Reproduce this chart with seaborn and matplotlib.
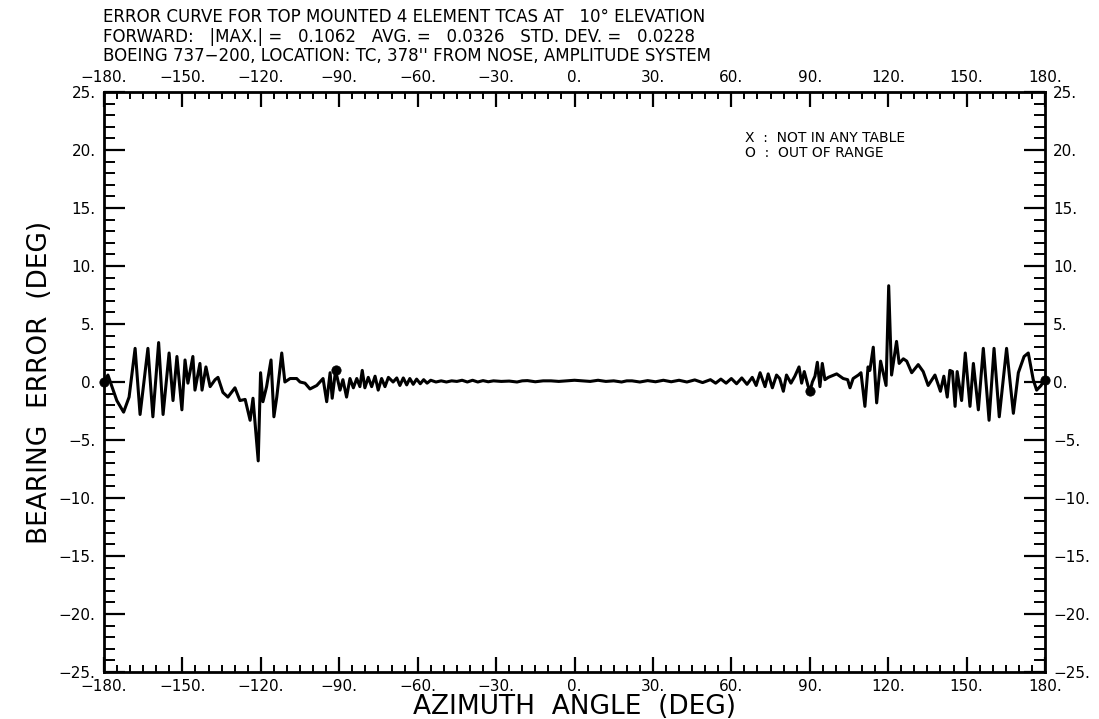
import matplotlib
matplotlib.use("Agg")
import matplotlib.pyplot as plt
from matplotlib.ticker import MultipleLocator, FuncFormatter
import pandas as pd
import seaborn as sns

# bearing error curve (azimuth deg, error deg)
azimuth = [
    -180.0, -178.5, -175.1, -172.5, -170.4, -168.1, -166.2, -163.2, -161.3, -159.1,
    -157.4, -155.1, -153.6, -152.1, -150.2, -149.0, -147.9, -146.0, -145.2, -143.3,
    -142.5, -141.0, -139.4, -137.5, -136.4, -134.5, -132.6, -129.9, -128.0, -126.0,
    -124.1, -123.0, -121.0, -120.1, -119.2, -117.8, -116.1, -115.0, -113.9, -112.0,
    -110.8, -108.8, -106.3, -105.0, -103.1, -101.2, -98.6, -96.2, -94.8, -93.5,
    -92.7, -91.4, -89.7, -88.6, -87.2, -85.9, -84.6, -83.3, -82.1, -81.2,
    -80.2, -78.9, -77.6, -76.3, -75.1, -73.8, -72.5, -71.2, -69.4, -68.0,
    -66.8, -65.5, -64.2, -63.0, -61.7, -60.4, -59.0, -57.7, -56.4, -55.0,
    -53.0, -51.0, -49.0, -47.0, -45.0, -43.0, -41.0, -39.0, -37.0, -35.0,
    -33.0, -31.0, -28.0, -25.0, -22.0, -20.0, -18.0, -15.0, -12.0, -9.0,
    -6.0, -3.0, 0.0, 3.0, 6.0, 9.0, 12.0, 15.0, 18.0, 20.0,
    22.0, 25.0, 28.0, 31.0, 34.0, 37.0, 40.0, 43.0, 46.0, 49.0,
    52.0, 54.0, 56.0, 58.0, 60.0, 62.0, 64.0, 66.0, 68.0, 69.5,
    71.0, 72.9, 74.1, 75.7, 77.3, 78.5, 79.9, 81.1, 82.8, 84.3,
    85.9, 86.9, 87.9, 89.3, 90.1, 91.0, 92.0, 92.9, 93.9, 94.8,
    95.8, 97.1, 100.3, 102.8, 104.5, 105.4, 106.6, 108.6, 109.6, 111.1,
    112.3, 113.0, 114.3, 115.6, 117.1, 118.1, 119.2, 120.2, 121.3, 123.2,
    124.2, 125.8, 127.1, 129.0, 131.5, 133.4, 135.3, 137.9, 140.0, 141.3,
    142.6, 143.6, 144.6, 145.6, 146.4, 148.1, 149.5, 151.3, 152.6, 154.5,
    156.4, 158.6, 160.5, 162.5, 165.3, 167.9, 169.8, 172.0, 173.6, 175.5,
    176.8, 178.5, 180.0,
]
bearing_error = [
    0.0, 0.6, -1.6, -2.6, -1.3, 2.9, -2.8, 2.9, -3.0, 3.4,
    -2.8, 2.5, -1.6, 2.2, -2.4, 1.9, -0.1, 2.2, -0.7, 1.6,
    -0.7, 1.3, -0.4, 0.2, 0.4, -0.9, -1.3, -0.5, -1.6, -1.5,
    -3.3, -1.4, -6.8, 0.8, -1.7, -0.4, 1.9, -3.0, -1.3, 2.5,
    0.0, 0.3, 0.3, 0.0, -0.1, -0.6, -0.3, 0.3, -1.7, 0.8,
    -1.4, 1.0, -0.7, 0.2, -1.3, 0.3, -0.5, 0.3, -0.4, 1.0,
    -0.5, 0.4, -0.4, 0.5, -0.7, 0.3, -0.4, 0.4, 0.0, 0.35,
    -0.3, 0.35, -0.25, 0.3, -0.2, 0.25, -0.15, 0.2, -0.1, 0.15,
    0.0, 0.1, 0.0, 0.1, 0.05, 0.15, 0.0, 0.15, 0.0, 0.12,
    0.02, 0.1, 0.05, 0.08, 0.0, 0.1, 0.12, 0.02, 0.1, 0.1,
    0.05, 0.1, 0.15, 0.1, 0.05, 0.15, 0.05, 0.1, 0.0, 0.1,
    0.1, 0.0, 0.12, 0.02, 0.15, 0.02, 0.15, 0.0, 0.18, -0.05,
    0.2, -0.1, 0.25, -0.1, 0.3, -0.15, 0.35, -0.2, 0.4, -0.3,
    0.8, -0.4, 0.7, -0.5, 0.6, 0.3, -0.8, 0.6, -0.1, 0.5,
    1.3, -0.1, 0.9, -0.3, -0.8, 0.0, 0.5, 1.7, -0.4, 1.6,
    0.2, 0.4, 0.7, 0.3, 0.2, -0.5, 0.3, 0.6, 0.8, -2.1,
    1.3, 1.0, 3.0, -1.8, 1.8, 0.8, -0.3, 8.3, 0.6, 3.5,
    1.6, 2.0, 1.8, 0.8, 1.5, 0.9, -0.3, 0.6, -0.8, 0.5,
    -1.3, 1.0, 0.9, -2.1, 0.9, -1.6, 2.5, -2.1, 1.6, -2.4,
    2.9, -3.3, 2.9, -3.0, 2.9, -2.7, 0.8, 2.2, 2.5, 0.2,
    -0.7, -0.3, 0.3,
]

# points flagged "out of range"
oor_azimuth = [-180.0, -91.4, 90.1, 180.0]
oor_error = [0.0, 1.0, -0.8, 0.2]

title_lines = [
    "ERROR CURVE FOR TOP MOUNTED 4 ELEMENT TCAS AT   10° ELEVATION",
    "FORWARD:   |MAX.| =   0.1062   AVG. =   0.0326   STD. DEV. =   0.0228",
    "BOEING 737\u2212200, LOCATION: TC, 378'' FROM NOSE, AMPLITUDE SYSTEM",
]
legend_lines = ["X  :  NOT IN ANY TABLE", "O  :  OUT OF RANGE"]

sns.set_style("ticks")
plt.rcParams["font.family"] = ["DejaVu Sans"]
# plotter output is pure black, not seaborn's dark grey
for key in ["text.color", "axes.labelcolor", "xtick.color", "ytick.color"]:
    plt.rcParams[key] = "black"

W, H = 1099, 719
fig = plt.figure(figsize=(W / 100, H / 100), dpi=100)
ax = fig.add_axes([104 / W, 1 - 672 / H, (1045 - 104) / W, (672 - 92) / H])

df = pd.DataFrame({"azimuth": azimuth, "error": bearing_error})
sns.lineplot(data=df, x="azimuth", y="error", sort=False, color="black",
             lw=2.2, ax=ax, clip_on=False)
sns.scatterplot(x=oor_azimuth, y=oor_error, color="black", s=45, marker="o",
                edgecolor="black", ax=ax, zorder=5, clip_on=False)

ax.set_xlim(-180, 180)
ax.set_ylim(-25, 25)


def fmt(v, pos):
    return f"{int(round(v))}.".replace("-", "\u2212")


ax.xaxis.set_major_locator(MultipleLocator(30))
ax.xaxis.set_minor_locator(MultipleLocator(5))
ax.yaxis.set_major_locator(MultipleLocator(5))
ax.yaxis.set_minor_locator(MultipleLocator(1))
ax.xaxis.set_major_formatter(FuncFormatter(fmt))
ax.yaxis.set_major_formatter(FuncFormatter(fmt))

ax.tick_params(axis="both", which="both", direction="in", top=True, right=True,
               labeltop=True, labelright=True, color="black", labelcolor="black",
               labelsize=11)
ax.tick_params(axis="x", which="major", length=11, width=1.6, pad=5)
ax.tick_params(axis="x", which="minor", length=5, width=1.4)
ax.tick_params(axis="y", which="major", length=15, width=1.6, pad=6)
ax.tick_params(axis="y", which="minor", length=8, width=1.4)

for sp in ax.spines.values():
    sp.set_visible(True)
    sp.set_linewidth(2.0)
    sp.set_color("black")

ax.set_xlabel("AZIMUTH  ANGLE  (DEG)", fontsize=19, labelpad=0, color="black")
ax.set_ylabel("BEARING  ERROR  (DEG)", fontsize=19, labelpad=4, color="black")

for i, line in enumerate(title_lines):
    fig.text(103 / W, 1 - (17 + 19.5 * i) / H, line, fontsize=12, va="center",
             ha="left", color="black")

for i, line in enumerate(legend_lines):
    fig.text(745 / W, 1 - (138 + 15 * i) / H, line, fontsize=10, va="center",
             ha="left", color="black")

fig.savefig("out.png", dpi=100)
